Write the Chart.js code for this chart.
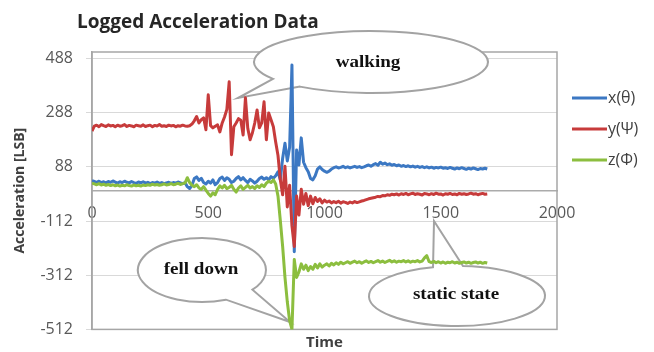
<!DOCTYPE html>
<html><head><meta charset="utf-8">
<script src="https://cdn.jsdelivr.net/npm/chart.js@4.4.0/dist/chart.umd.min.js"></script>
<style>html,body{margin:0;padding:0;background:#fff;}#wrap{position:relative;width:654px;height:352px;}</style>
</head><body><div id="wrap"><canvas id="c" width="654" height="352"></canvas></div>
<script>
// ---- data ----
const chartTitle = 'Logged Acceleration Data';
const xAxisTitle = 'Time';
const yAxisTitle = 'Acceleration [LSB]';
const timeStep = 10; // samples every 10 time units, starting at 0
const xTickValues = [0, 500, 1000, 1500, 2000];
const yTickValues = [-512, -312, -112, 88, 288, 488];
const seriesNames = ['x(\u03B8)', 'y(\u03A8)', 'z(\u03A6)'];
const calloutTexts = ['walking', 'fell down', 'static state'];

const seriesX = [
 37, 34, 31, 35, 30, 33, 29, 34, 31, 36,
 32, 28, 33, 30, 35, 31, 29, 34, 30, 27,
 32, 29, 33, 28, 31, 26, 30, 28, 32, 27,
 30, 26, 29, 31, 27, 30, 28, 32, 29, 26,
 30, 15, 8, 20, 45, 51, 38, 46, 30, 25,
 35, 28, 40, 22, 30, 45, 50, 38, 48, 42,
 30, 35, 45, 52, 40, 48, 38, 30, 42, 36,
 28, 35, 45, 50, 42, 48, 40, 52, 46, 55,
 70, 40, 120, 175, 110, 160, 464, -225, 150, 95,
 195, 105, 85, 70, 45, 40, 55, 80, 88, 78,
 72, 68, 72, 80, 85, 88, 84, 86, 90, 85,
 88, 84, 87, 90, 86, 89, 85, 88, 92, 95,
 90, 96, 100, 94, 105, 98, 102, 96, 99, 94,
 97, 92, 95, 90, 93, 89, 92, 88, 91, 87,
 90, 86, 89, 85, 88, 84, 87, 83, 86, 84,
 87, 83, 85, 82, 86, 83, 80, 84, 81, 85,
 82, 79, 83, 80, 84, 81, 78, 82, 80, 83,
 80
];
const seriesY = [
 220, 238, 242, 236, 244, 240, 237, 243, 239, 241,
 236, 242, 238, 240, 244, 237, 241, 239, 236, 242,
 240, 238, 243, 237, 240, 242, 236, 241, 239, 244,
 238, 240, 237, 242, 239, 241, 236, 240, 238, 242,
 239, 238, 240, 246, 258, 274, 250, 262, 269, 225,
 354, 240, 232, 238, 243, 217, 250, 272, 300, 402,
 133, 236, 250, 266, 260, 206, 343, 230, 188, 214,
 250, 298, 232, 250, 328, 188, 287, 262, 236, 180,
 130, 40, -15, 90, -60, 20, -130, -206, -20, -90,
 5, -50, -10, -55, -20, -48, -25, -40, -30, -45,
 -35, -42, -38, -45, -40, -44, -39, -46, -41, -43,
 -47, -42, -45, -40, -44, -41, -38, -36, -33, -30,
 -28, -26, -24, -21, -22, -18, -19, -15, -17, -13,
 -15, -12, -16, -11, -14, -10, -15, -12, -9, -14,
 -11, -13, -16, -10, -12, -15, -11, -14, -9, -13,
 -12, -16, -11, -13, -10, -14, -12, -15, -10, -13,
 -11, -14, -12, -9, -13, -11, -15, -12, -10, -13,
 -12
];
const seriesZ = [
 28, 25, 22, 26, 21, 24, 20, 23, 19, 22,
 18, 21, 17, 20, 18, 22, 19, 17, 21, 18,
 20, 17, 21, 19, 22, 20, 24, 21, 23, 20,
 22, 25, 21, 23, 26, 22, 24, 27, 23, 26,
 28, 48, 30, 20, 15, 22, 10, 5, 15, 2,
 -10, -20, -8, -15, 5, 18, 10, 20, 8, 12,
 20, 5, -5, 10, 18, 5, 12, 20, 10, 15,
 8, 18, 12, 22, 15, 28, 35, 30, 40, 25,
 -20, -110, -206, -320, -410, -480, -512, -254, -320, -300,
 -270, -290, -275, -295, -280, -290, -272, -285, -270, -282,
 -275, -270, -278, -268, -274, -266, -272, -264, -270, -266,
 -262, -268, -264, -260, -266, -262, -268, -263, -259, -265,
 -261, -266, -262, -258, -264, -260, -265, -261, -257, -263,
 -259, -264, -260, -262, -258, -263, -259, -264, -260, -262,
 -258, -263, -260, -248, -240, -262, -265, -261, -266, -262,
 -267, -263, -268, -264, -266, -262, -267, -264, -268, -265,
 -263, -267, -264, -268, -265, -263, -267, -264, -268, -265,
 -267
];

// ---- styles ----
const colors = ['#3C78C3', '#C73B3B', '#8CBE3F'];
const FONT = '"Open Sans", "Noto Sans", sans-serif';
const toPoints = arr => arr.map((v, i) => ({x: i * timeStep, y: v}));

function drawCallout(ctx, o) {
  const r = Math.PI / 180;
  ctx.beginPath();
  ctx.ellipse(o.cx, o.cy, o.rx, o.ry, 0, o.a1 * r, (o.a2 + 360) * r, false);
  ctx.lineTo(o.tx, o.ty);
  ctx.closePath();
  ctx.fillStyle = '#ffffff';
  ctx.fill();
  ctx.strokeStyle = '#a3a3a3';
  ctx.lineWidth = 2;
  ctx.stroke();
  ctx.save();
  ctx.translate(o.lx, o.ly);
  ctx.scale(1.12, 1);
  ctx.fillStyle = '#111111';
  ctx.font = 'bold 17px "Liberation Serif", serif';
  ctx.textAlign = 'center';
  ctx.textBaseline = 'middle';
  ctx.fillText(o.text, 0, 0);
  ctx.restore();
}

const decor = {
  id: 'decor',
  beforeDatasetsDraw(chart) {
    const {ctx, chartArea: a} = chart;
    ctx.save();
    ctx.strokeStyle = '#a6a6a6';
    ctx.lineWidth = 1.5;
    ctx.strokeRect(a.left, a.top, a.right - a.left, a.bottom - a.top);
    drawCallout(ctx, {cx: 371, cy: 62, rx: 117, ry: 31, a1: 146.9, a2: 127.4, tx: 238, ty: 98, lx: 368, ly: 63, text: calloutTexts[0]});
    drawCallout(ctx, {cx: 202, cy: 270, rx: 64, ry: 32, a1: 68, a2: 38, tx: 290, ty: 322, lx: 201, ly: 270, text: calloutTexts[1]});
    drawCallout(ctx, {cx: 457, cy: 296, rx: 88, ry: 30, a1: 273.9, a2: 254.2, tx: 434, ty: 221, lx: 456, ly: 295, text: calloutTexts[2]});
    ctx.restore();
  },
  afterDraw(chart) {
    const ctx = chart.ctx;
    ctx.save();
    ctx.fillStyle = '#262626';
    ctx.font = 'bold 19px ' + FONT;
    ctx.textAlign = 'left';
    ctx.textBaseline = 'alphabetic';
    ctx.fillText(chartTitle, 77, 28);
    // legend
    const ys = [98, 129, 160];
    ctx.font = '16px ' + FONT;
    ctx.textBaseline = 'middle';
    seriesNames.forEach((n, i) => {
      ctx.strokeStyle = colors[i];
      ctx.lineWidth = 3;
      ctx.beginPath();
      ctx.moveTo(572, ys[i]);
      ctx.lineTo(607, ys[i]);
      ctx.stroke();
      ctx.fillStyle = '#404040';
      ctx.fillText(n, 608, ys[i]);
    });
    ctx.restore();
  }
};

new Chart(document.getElementById('c'), {
  type: 'line',
  data: {
    datasets: [
      {label: seriesNames[0], data: toPoints(seriesX), borderColor: colors[0], order: 3},
      {label: seriesNames[1], data: toPoints(seriesY), borderColor: colors[1], order: 2},
      {label: seriesNames[2], data: toPoints(seriesZ), borderColor: colors[2], order: 1}
    ]
  },
  options: {
    responsive: false,
    animation: false,
    events: [],
    layout: {padding: {left: 0, right: 97, top: 52, bottom: 0}},
    elements: {
      line: {borderWidth: 3, tension: 0, fill: false, borderJoinStyle: 'round'},
      point: {radius: 0}
    },
    plugins: {legend: {display: false}, tooltip: {enabled: false}, title: {display: false}},
    scales: {
      y: {
        type: 'linear', position: 'left', min: -512, max: 512,
        afterBuildTicks: s => { s.ticks = yTickValues.map(v => ({value: v})); },
        afterFit: s => { s.width = 92; },
        ticks: {font: {family: FONT, size: 16}, color: '#595959', padding: 13, callback: v => String(v)},
        grid: {color: '#d9d9d9', lineWidth: 1, drawTicks: true, tickLength: 6},
        border: {display: true, color: '#a6a6a6', width: 1.5},
        title: {display: true, text: yAxisTitle, font: {family: FONT, size: 14, weight: 'bold'}, color: '#404040', padding: {top: 12, bottom: 0}}
      },
      x: {
        type: 'linear', position: {y: 0}, min: 0, max: 2000,
        afterBuildTicks: s => { s.ticks = xTickValues.map(v => ({value: v})); },
        ticks: {font: {family: FONT, size: 16}, color: '#595959', padding: 13, autoSkip: false, maxRotation: 0, callback: v => String(v)},
        grid: {display: false, drawTicks: false},
        border: {display: true, color: '#ababab', width: 1.5}
      },
      xt: {
        type: 'linear', position: 'bottom', min: 0, max: 2000,
        afterFit: s => { s.height = 22; },
        ticks: {display: false},
        grid: {display: false, drawTicks: false},
        border: {display: false},
        title: {display: true, text: xAxisTitle, font: {family: FONT, size: 15, weight: 'bold'}, color: '#404040', padding: {top: 0, bottom: 0}}
      }
    }
  },
  plugins: [decor]
});
</script></body></html>
